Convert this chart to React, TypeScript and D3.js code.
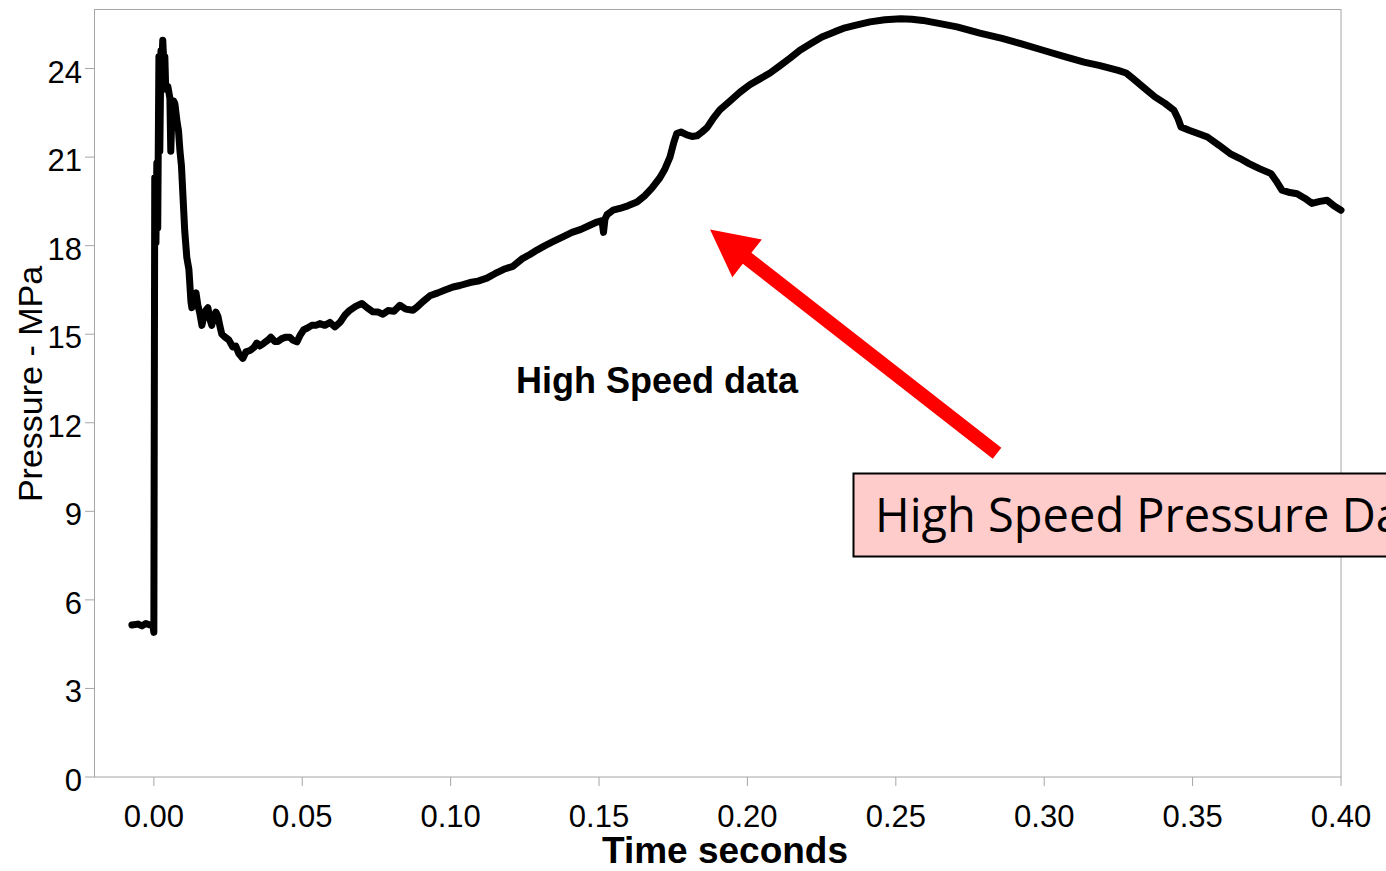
import React, { useEffect } from 'react';
import * as d3 from 'd3';

// time (s)
const times = [
  -0.0074, -0.0054, -0.004, -0.0027, -0.0013, -0.0003, 0.0, 0.0003, 0.0007, 0.001,
  0.0013, 0.0017, 0.002, 0.0024, 0.0027, 0.003, 0.0034, 0.0037, 0.004, 0.0047,
  0.0054, 0.0057, 0.0061, 0.0067, 0.0071, 0.0078, 0.0083, 0.0088, 0.0093, 0.0098,
  0.0104, 0.0111, 0.0118, 0.0125, 0.0128, 0.0135, 0.0142, 0.0148, 0.0155, 0.0162,
  0.0168, 0.0175, 0.0182, 0.0189, 0.0195, 0.0202, 0.0209, 0.0216, 0.0222, 0.0229,
  0.0239, 0.0253, 0.0266, 0.0276, 0.0286, 0.03, 0.031, 0.0324, 0.0337, 0.0347,
  0.0357, 0.0371, 0.0384, 0.0394, 0.0408, 0.0418, 0.0431, 0.0445, 0.0458, 0.0468,
  0.0482, 0.0492, 0.0505, 0.0516, 0.0532, 0.0546, 0.0559, 0.0576, 0.0593, 0.061,
  0.0627, 0.0644, 0.066, 0.0681, 0.0701, 0.0718, 0.0738, 0.0755, 0.0772, 0.0789,
  0.0809, 0.0829, 0.0849, 0.0873, 0.089, 0.0906, 0.093, 0.0957, 0.0981, 0.1008,
  0.1031, 0.1065, 0.1092, 0.1122, 0.1149, 0.1179, 0.121, 0.124, 0.1267, 0.1291,
  0.1318, 0.1348, 0.1378, 0.1409, 0.1439, 0.1469, 0.1493, 0.151, 0.1515, 0.152,
  0.1527, 0.1547, 0.157, 0.1597, 0.1628, 0.1655, 0.1678, 0.1705, 0.1722, 0.1739,
  0.1752, 0.1762, 0.1776, 0.1796, 0.1813, 0.183, 0.1847, 0.1864, 0.1884, 0.1907,
  0.1941, 0.1975, 0.2008, 0.2042, 0.2076, 0.211, 0.2143, 0.2177, 0.2214, 0.2251,
  0.2295, 0.2329, 0.2366, 0.2413, 0.2463, 0.2517, 0.2554, 0.2591, 0.2649, 0.2706,
  0.2783, 0.2858, 0.2918, 0.2996, 0.3063, 0.3134, 0.3188, 0.3249, 0.3276, 0.3299,
  0.3336, 0.3373, 0.3407, 0.3437, 0.3451, 0.3461, 0.3488, 0.3518, 0.355, 0.3589,
  0.3626, 0.366, 0.369, 0.3727, 0.3764, 0.3781, 0.3801, 0.3828, 0.3852, 0.3879,
  0.3902, 0.3929, 0.3953, 0.3976, 0.4,
];

// pressure (MPa)
const pressures = [
  5.15, 5.18, 5.12, 5.2, 5.15, 5.12, 4.9, 20.3, 18.1, 20.8,
  18.6, 24.4, 21.2, 24.6, 24.2, 24.96, 24.1, 24.4, 23.3, 23.4,
  23.0, 21.2, 22.5, 22.9, 22.8, 22.2, 21.9, 21.2, 20.7, 19.7,
  18.5, 17.6, 17.2, 16.1, 15.9, 16.3, 16.4, 16.0, 15.7, 15.3,
  15.6, 15.8, 15.9, 15.5, 15.3, 15.6, 15.75, 15.6, 15.3, 15.0,
  14.91, 14.8, 14.57, 14.6, 14.35, 14.18, 14.4, 14.45, 14.55, 14.7,
  14.6, 14.7, 14.8, 14.9, 14.75, 14.75, 14.85, 14.9, 14.9, 14.8,
  14.74, 14.95, 15.15, 15.2, 15.3, 15.3, 15.36, 15.3, 15.4, 15.25,
  15.4, 15.65, 15.81, 15.95, 16.04, 15.9, 15.76, 15.75, 15.68, 15.8,
  15.78, 15.98, 15.85, 15.81, 15.95, 16.1, 16.3, 16.4, 16.5, 16.6,
  16.65, 16.75, 16.8, 16.9, 17.05, 17.2, 17.3, 17.55, 17.7, 17.85,
  18.0, 18.15, 18.3, 18.45, 18.55, 18.69, 18.8, 18.85, 18.45, 18.9,
  19.05, 19.2, 19.26, 19.35, 19.48, 19.7, 19.95, 20.3, 20.6, 21.0,
  21.5, 21.8, 21.85, 21.75, 21.7, 21.72, 21.85, 22.0, 22.3, 22.6,
  22.9, 23.2, 23.45, 23.65, 23.85, 24.1, 24.35, 24.62, 24.85, 25.07,
  25.25, 25.38, 25.47, 25.58, 25.65, 25.69, 25.67, 25.63, 25.52, 25.41,
  25.2, 25.02, 24.85, 24.62, 24.42, 24.22, 24.1, 23.94, 23.85, 23.66,
  23.35, 23.04, 22.82, 22.59, 22.3, 22.02, 21.91, 21.8, 21.68, 21.4,
  21.12, 20.95, 20.78, 20.6, 20.44, 20.2, 19.88, 19.8, 19.76, 19.6,
  19.43, 19.5, 19.54, 19.35, 19.2,
];

const xTicks = [0, 0.05, 0.1, 0.15, 0.2, 0.25, 0.3, 0.35, 0.4];
const yTicks = [0, 3, 6, 9, 12, 15, 18, 21, 24];

// arrow annotation, in data units: [time, pressure]
const arrowTail = [0.2841, 10.97];
const arrowTip = [0.1874, 18.55];

const W = 1386;
const H = 871;
const left = 94.5;
const right = 1341;
const top = 9.5;
const bottom = 777;

export default function App() {
  useEffect(() => {
    document.body.style.margin = '0';
    document.body.style.overflow = 'hidden';
  }, []);

  const x = d3.scaleLinear().domain([-0.02, 0.4]).range([left, right]);
  const y = d3.scaleLinear().domain([0, 26]).range([bottom, top]);

  const data = times.map((t, i) => [t, pressures[i]] as [number, number]);
  const line = d3.line<[number, number]>()
    .x(d => x(d[0]))
    .y(d => y(d[1]));

  // arrow polygon
  const tx = x(arrowTail[0]), ty = y(arrowTail[1]);
  const hx = x(arrowTip[0]), hy = y(arrowTip[1]);
  const len = Math.hypot(hx - tx, hy - ty);
  const ux = (hx - tx) / len, uy = (hy - ty) / len;
  const px = -uy, py = ux;
  const shaft = 7, headW = 24, headL = 47;
  const bx = hx - ux * headL, by = hy - uy * headL;
  const arrowPts = [
    [tx + px * shaft, ty + py * shaft],
    [bx + px * shaft, by + py * shaft],
    [bx + px * headW, by + py * headW],
    [hx, hy],
    [bx - px * headW, by - py * headW],
    [bx - px * shaft, by - py * shaft],
    [tx - px * shaft, ty - py * shaft],
  ].map(p => p.join(',')).join(' ');

  const font = '"Liberation Sans", Arial, sans-serif';
  const grey = '#a6a6a6';

  return (
    <svg width={W} height={H} style={{ position: 'absolute', left: 0, top: 0, background: '#fff' }}
      fontFamily={font}>
      <rect x={0} y={0} width={W} height={H} fill="#fff" />
      <rect x={left} y={top} width={right - left} height={bottom - top} fill="none" stroke={grey} strokeWidth={1} />

      {yTicks.map(v => (
        <g key={'y' + v}>
          <line x1={85} x2={left} y1={y(v)} y2={y(v)} stroke={grey} />
          <text x={82} y={y(v) + 14} textAnchor="end" fontSize={31} fill="#000">{v}</text>
        </g>
      ))}
      {xTicks.map(v => (
        <g key={'x' + v}>
          <line x1={x(v)} x2={x(v)} y1={bottom} y2={786} stroke={grey} />
          <text x={x(v)} y={827} textAnchor="middle" fontSize={31} fill="#000">{v.toFixed(2)}</text>
        </g>
      ))}

      <text x={725} y={863} textAnchor="middle" fontSize={37} fontWeight="bold">Time seconds</text>
      <text transform={`translate(42,384) rotate(-90)`} textAnchor="middle" fontSize={34}>Pressure - MPa</text>

      <path d={line(data) || ''} fill="none" stroke="#000" strokeWidth={7}
        strokeLinejoin="round" strokeLinecap="round" />

      <text x={516} y={393} fontSize={36} fontWeight="bold">High Speed data</text>

      <polygon points={arrowPts} fill="#ff0000" />

      <rect x={853.5} y={473.5} width={600} height={83} fill="#ffcccc" stroke="#000" strokeWidth={2} />
      <text x={875} y={532} fontSize={47} fontFamily='"Open Sans", sans-serif' fill="#000">High Speed Pressure Data</text>
    </svg>
  );
}
